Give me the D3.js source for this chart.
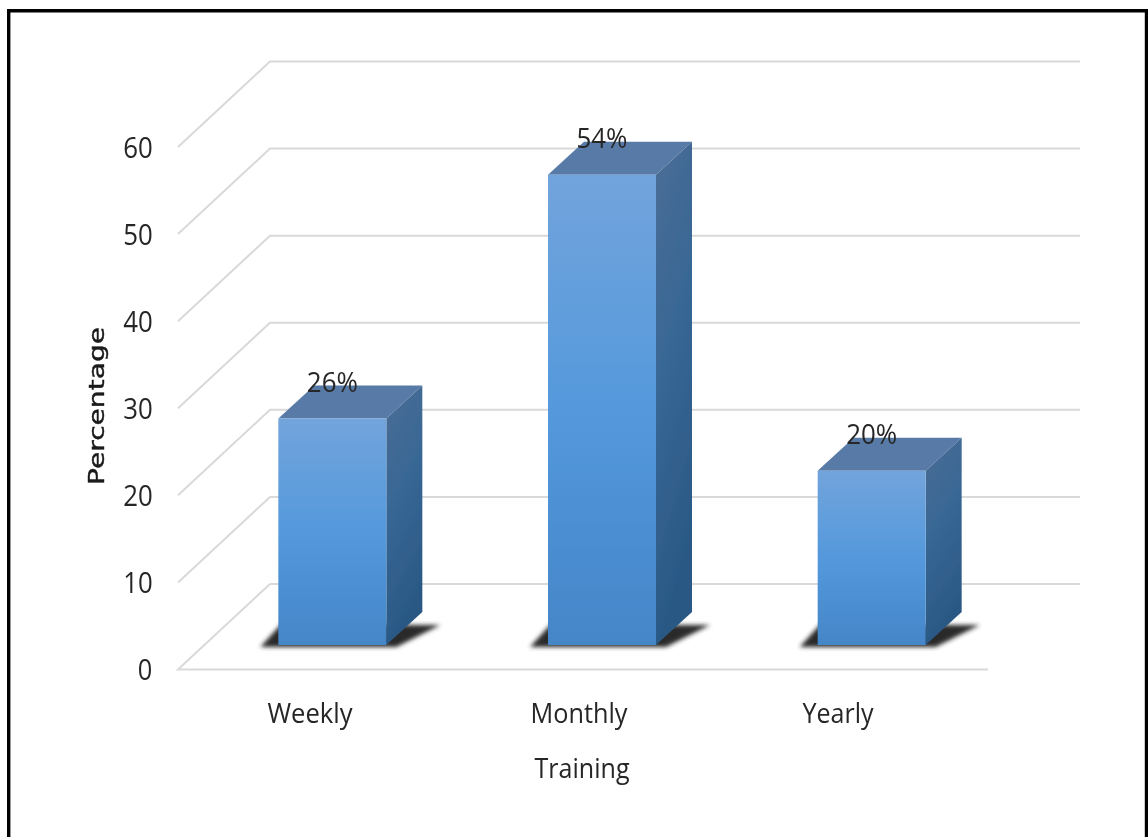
<!DOCTYPE html>
<html><head><meta charset="utf-8">
<script src="https://cdn.jsdelivr.net/npm/d3@7/dist/d3.min.js"></script>
<style>html,body{margin:0;padding:0;background:#fff}svg{display:block}</style>
</head><body><div id="c"></div>
<script>
const categories = ["Weekly", "Monthly", "Yearly"];
const values = [26, 54, 20];
const valueLabels = ["26%", "54%", "20%"];
const yTicks = [0, 10, 20, 30, 40, 50, 60];
const xTitle = "Training";
const yTitle = "Percentage";

const W = 1148, H = 837;
const svg = d3.select("#c").append("svg").attr("width", W).attr("height", H);
const defs = svg.append("defs");
const FONT = "'Open Sans', sans-serif", INK = "#262626";

const blur = defs.append("filter").attr("id", "soft").attr("x", "-5%").attr("y", "-5%").attr("width", "110%").attr("height", "110%");
blur.append("feGaussianBlur").attr("stdDeviation", 0.45);
const shBlur = defs.append("filter").attr("id", "sh").attr("x", "-20%").attr("y", "-40%").attr("width", "140%").attr("height", "180%");
shBlur.append("feGaussianBlur").attr("stdDeviation", 2.2);

function grad(id, x2, y2, stops) {
  const g = defs.append("linearGradient").attr("id", id).attr("x1", 0).attr("y1", 0).attr("x2", x2).attr("y2", y2);
  stops.forEach(([o, c]) => g.append("stop").attr("offset", o).attr("stop-color", c));
}
grad("front", 0, 1, [[0, "#72a4dc"], [0.5, "#5499dc"], [1, "#4486c8"]]);
grad("side", 0.25, 1, [[0, "#4b6e96"], [0.5, "#376694"], [1, "#2a5884"]]);

// Geometry
const frontY0 = 669.5, frontX0 = 178, frontX1 = 988;
const depthX = 92, depthY = 85.5;
const y = d3.scaleLinear().domain([0, 60]).range([frontY0, 147]);
const px = y(0) - y(1);
const x = d3.scaleBand().domain(categories).range([198, 1007]).paddingInner(0).paddingOuter(0);
const barW = 108, barDX = 36, barDY = 33, baseY = 645;
const barX = c => x(c) + x.bandwidth() / 2 - barW / 2 - 0.5;

const root = svg.append("g").attr("filter", "url(#soft)");

// Frame: open at the bottom
root.append("path").attr("d", `M8.7,${H}V10.8H1146.5V${H}`).attr("fill", "none").attr("stroke", "#000").attr("stroke-width", 3.4);

// Wall and floor grid
const gridColor = "#d9d9d9";
const grid = root.append("g").attr("fill", "none").attr("stroke", gridColor).attr("stroke-width", 2);
grid.selectAll("path").data(yTicks).join("path")
  .attr("d", t => t === 0
    ? `M${frontX0 + depthX},${y(0) - depthY}H${frontX1 + depthX}M${frontX0 + depthX},${y(0) - depthY}L${frontX0},${y(0)}H${frontX1}`
    : `M${frontX0},${y(t)}L${frontX0 + depthX},${y(t) - depthY}H${frontX1 + depthX}`);

// Bars
const bars = root.selectAll("g.bar").data(categories.map((c, i) => ({c, v: values[i], l: valueLabels[i]}))).join("g").attr("class", "bar");
bars.append("path").attr("filter", "url(#sh)").attr("fill", "#2b2b2b")
  .attr("d", d => { const a = barX(d.c); return `M${a - 18},${baseY + 2}L${a + 2},${baseY - 20}H${a + barW + barDX + 18}L${a + barW + 10},${baseY + 2}Z`; });
bars.append("path").attr("fill", "#587aa6")
  .attr("d", d => { const a = barX(d.c), t = baseY - d.v * px; return `M${a},${t}L${a + barDX},${t - barDY}H${a + barW + barDX}L${a + barW},${t}Z`; });
bars.append("path").attr("fill", "url(#side)")
  .attr("d", d => { const a = barX(d.c), t = baseY - d.v * px; return `M${a + barW},${t}L${a + barW + barDX},${t - barDY}V${baseY - barDY}L${a + barW},${baseY}Z`; });
bars.append("rect").attr("fill", "url(#front)")
  .attr("x", d => barX(d.c)).attr("y", d => baseY - d.v * px).attr("width", barW).attr("height", d => d.v * px);

function label(g, txt, cx, cy, size, len, extra) {
  return g.append("text").text(txt).attr("x", cx).attr("y", cy)
    .attr("text-anchor", "middle").attr("font-family", FONT).attr("font-size", size).attr("fill", INK)
    .attr("textLength", len).attr("lengthAdjust", "spacingAndGlyphs");
}
// Value labels
bars.each(function (d) {
  const a = barX(d.c), t = baseY - d.v * px;
  label(d3.select(this), d.l, a + 54, t - 27, 27, 51);
});
// Y ticks
yTicks.forEach(t => label(root, String(t), t === 0 ? 145 : 138, y(t) + 10.5, 28.5, t === 0 ? 14.5 : 29.5));
// Categories
const catPos = [[310, 85], [579, 97], [838, 71]];
categories.forEach((c, i) => label(root, c, catPos[i][0], 723, 28, catPos[i][1]));
// Titles
label(root, xTitle, 582, 778, 28, 95);
root.append("text").text(yTitle).attr("transform", "translate(104,406) rotate(-90)")
  .attr("text-anchor", "middle").attr("font-family", "'DejaVu Sans', sans-serif").attr("font-size", 22).attr("font-weight", 500)
  .attr("fill", "#1a1a1a").attr("stroke", "#1a1a1a").attr("stroke-width", 0.4)
  .attr("textLength", 158).attr("lengthAdjust", "spacingAndGlyphs");
</script></body></html>
